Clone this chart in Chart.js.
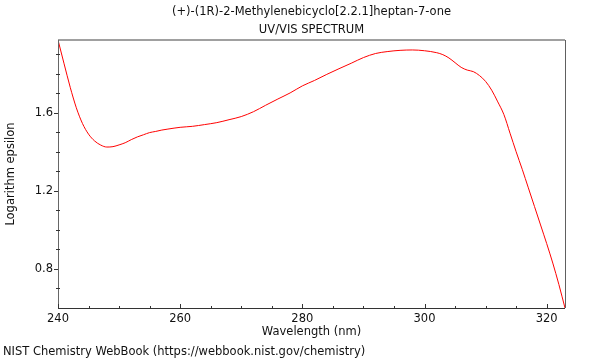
<!DOCTYPE html>
<html>
<head>
<meta charset="utf-8">
<script src="https://cdn.jsdelivr.net/npm/chart.js@4.4.1/dist/chart.umd.min.js"></script>
<style>
  html, body { margin: 0; padding: 0; background: #fff; }
  #wrap { width: 600px; height: 360px; position: relative; }
</style>
</head>
<body>
<div id="wrap"><canvas id="spectrum" width="600" height="360"></canvas></div>
<script>
// wavelength (nm) and log epsilon
const wavelengths = [240, 241, 242, 243, 244, 245, 246, 247, 248, 249, 250, 251, 252, 253, 254, 255, 256, 257, 258,
    260, 262, 264, 266, 268, 270, 272, 274, 276, 278, 280, 282, 284, 286, 288, 290, 292, 294, 296, 298, 300,
    302, 303, 304, 305, 306, 307, 308, 309, 310, 311, 312, 313, 314, 315, 316, 317, 318, 319, 320, 321, 322, 323];
const logEpsilon = [1.972, 1.85, 1.73, 1.625, 1.545, 1.49, 1.455, 1.434, 1.424, 1.426, 1.435, 1.446, 1.462, 1.476, 1.487, 1.498, 1.504, 1.511, 1.516,
    1.525, 1.530, 1.539, 1.549, 1.564, 1.580, 1.605, 1.638, 1.670, 1.701, 1.737, 1.765, 1.796, 1.825, 1.853, 1.882, 1.903, 1.913, 1.919, 1.921, 1.917,
    1.907, 1.897, 1.880, 1.856, 1.832, 1.818, 1.810, 1.790, 1.760, 1.715, 1.655, 1.590, 1.495, 1.400, 1.310, 1.215, 1.120, 1.025, 0.930, 0.830, 0.720, 0.600];

const xTicks = [240, 260, 280, 300, 320];
const yTicks = [0.8, 1.2, 1.6];
const xMinor = [245, 250, 255, 265, 270, 275, 285, 290, 295, 305, 310, 315];
const yMinor = [0.7, 0.9, 1.0, 1.1, 1.3, 1.4, 1.5, 1.7, 1.8, 1.9];

const titleLines = ['(+)-(1R)-2-Methylenebicyclo[2.2.1]heptan-7-one', 'UV/VIS SPECTRUM'];
const xTitle = 'Wavelength (nm)';
const yTitle = 'Logarithm epsilon';
const footer = 'NIST Chemistry WebBook (https://webbook.nist.gov/chemistry)';

const FONT_SIZE = 11.5;
const FONT = FONT_SIZE + 'px "DejaVu Sans", sans-serif';

// frame, tick marks and the texts around the plot
const decor = {
    id: 'decor',
    afterDraw(chart) {
        const ctx = chart.ctx;
        const a = chart.chartArea;
        const xs = chart.scales.x, ys = chart.scales.y;
        ctx.save();

        // top and right edges
        ctx.strokeStyle = '#a0a0a0';
        ctx.lineWidth = 2;
        ctx.beginPath();
        ctx.moveTo(a.left, a.top);
        ctx.lineTo(a.right, a.top);
        ctx.stroke();
        ctx.lineWidth = 1;
        ctx.strokeStyle = '#606060';
        ctx.beginPath();
        ctx.moveTo(a.right + 0.5, a.top);
        ctx.lineTo(a.right + 0.5, a.bottom);
        ctx.stroke();

        // left and bottom axes
        ctx.strokeStyle = '#666';
        ctx.beginPath();
        ctx.moveTo(a.left + 0.5, a.top);
        ctx.lineTo(a.left + 0.5, a.bottom);
        ctx.stroke();
        ctx.strokeStyle = '#333';
        ctx.beginPath();
        ctx.moveTo(a.left, a.bottom + 0.5);
        ctx.lineTo(a.right, a.bottom + 0.5);
        ctx.stroke();

        // ticks: y outward, x inward
        ctx.strokeStyle = '#333';
        ctx.beginPath();
        yTicks.forEach(v => {
            const y = Math.round(ys.getPixelForValue(v)) + 0.5;
            ctx.moveTo(a.left - 4, y); ctx.lineTo(a.left, y);
        });
        yMinor.forEach(v => {
            const y = Math.round(ys.getPixelForValue(v)) + 0.5;
            ctx.moveTo(a.left - 2, y); ctx.lineTo(a.left + 2, y);
        });
        xTicks.forEach(v => {
            const x = Math.round(xs.getPixelForValue(v)) + 0.5;
            ctx.moveTo(x, a.bottom); ctx.lineTo(x, a.bottom - 4);
        });
        xMinor.forEach(v => {
            const x = Math.round(xs.getPixelForValue(v)) + 0.5;
            ctx.moveTo(x, a.bottom); ctx.lineTo(x, a.bottom - 2);
        });
        ctx.stroke();

        // texts
        ctx.fillStyle = '#111';
        ctx.font = FONT;
        ctx.textAlign = 'center';
        ctx.textBaseline = 'middle';
        const cx = (a.left + a.right) / 2;
        ctx.fillText(titleLines[0], cx, 12);
        ctx.fillText(titleLines[1], cx, 30);
        ctx.fillText(xTitle, cx, 332);

        ctx.save();
        ctx.translate(11, (a.top + a.bottom) / 2);
        ctx.rotate(-Math.PI / 2);
        ctx.fillText(yTitle, 0, 0);
        ctx.restore();

        ctx.textAlign = 'left';
        ctx.fillText(footer, 3, 352);
        ctx.restore();
    }
};

const ctx = document.getElementById('spectrum').getContext('2d');
const chart = new Chart(ctx, {
    type: 'line',
    data: {
        datasets: [{
            data: wavelengths.map((w, i) => ({ x: w, y: logEpsilon[i] })),
            borderColor: '#ff0000',
            borderWidth: 1,
            pointRadius: 0,
            cubicInterpolationMode: 'monotone',
            fill: false
        }]
    },
    options: {
        responsive: false,
        animation: false,
        layout: { padding: { top: 40, right: 35, left: 0, bottom: 0 } },
        plugins: { legend: { display: false }, tooltip: { enabled: false } },
        scales: {
            x: {
                type: 'linear',
                min: 240,
                max: 323,
                afterBuildTicks: s => { s.ticks = xTicks.map(v => ({ value: v })); },
                afterFit: s => { s.height = 52; },
                grid: { display: false, drawTicks: false },
                border: { display: false },
                ticks: {
                    color: '#111',
                    font: { family: '"DejaVu Sans", sans-serif', size: FONT_SIZE },
                    padding: 4,
                    maxRotation: 0,
                    autoSkip: false
                }
            },
            y: {
                min: 0.6,
                max: 1.972,
                afterBuildTicks: s => { s.ticks = yTicks.map(v => ({ value: v })); },
                afterFit: s => { s.width = 58; },
                grid: { display: false, drawTicks: false },
                border: { display: false },
                ticks: {
                    color: '#111',
                    font: { family: '"DejaVu Sans", sans-serif', size: FONT_SIZE },
                    padding: 5,
                    autoSkip: false,
                    callback: v => v.toFixed(1)
                }
            }
        }
    },
    plugins: [decor]
});
</script>
</body>
</html>
